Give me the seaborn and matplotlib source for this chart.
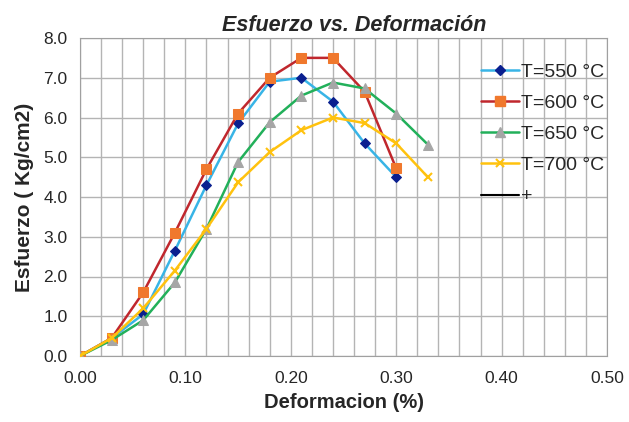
import numpy as np
import pandas as pd
import matplotlib
matplotlib.use("Agg")
import matplotlib.pyplot as plt
from matplotlib.lines import Line2D
from matplotlib.ticker import MultipleLocator, FormatStrFormatter
import seaborn as sns

# Datos
deformacion = [0.00, 0.03, 0.06, 0.09, 0.12, 0.15, 0.18, 0.21, 0.24, 0.27, 0.30, 0.33]
esf_550 = [0.0, 0.45, 1.05, 2.65, 4.3, 5.85, 6.9, 7.0, 6.4, 5.35, 4.5]
esf_600 = [0.0, 0.45, 1.6, 3.1, 4.7, 6.1, 7.0, 7.5, 7.5, 6.65, 4.72]
esf_650 = [0.0, 0.4, 0.9, 1.85, 3.2, 4.88, 5.88, 6.55, 6.88, 6.73, 6.1, 5.32]
esf_700 = [0.0, 0.45, 1.2, 2.15, 3.2, 4.37, 5.13, 5.68, 6.0, 5.86, 5.35, 4.5]
etiquetas = ["T=550 °C", "T=600 °C", "T=650 °C", "T=700 °C"]

series = [esf_550, esf_600, esf_650, esf_700]
estilos = [
    dict(color="#38b4e6", marker="D", markerfacecolor="#0a1f8f", markeredgecolor="#0a1f8f", markersize=5),
    dict(color="#c0272d", marker="s", markerfacecolor="#f0782d", markeredgecolor="#f0782d", markersize=7),
    dict(color="#22b05a", marker="^", markerfacecolor="#a6a6a6", markeredgecolor="#a6a6a6", markersize=7),
    dict(color="#ffc20e", marker="x", markerfacecolor="#ffc20e", markeredgecolor="#ffc20e", markersize=6, markeredgewidth=1.5),
]

rows = []
for lab, vals in zip(etiquetas, series):
    for x, y in zip(deformacion, vals):
        rows.append({"def": x, "esf": y, "serie": lab})
df = pd.DataFrame(rows)

sns.set_style("white")
plt.rcParams["font.family"] = ["Liberation Sans", "DejaVu Sans"]

W, H = 629, 422
fig = plt.figure(figsize=(W / 100, H / 100), dpi=100)
ax = fig.add_axes([80 / W, 1 - 356 / H, (607 - 80) / W, (356 - 38) / H])

handles = []
for lab, st in zip(etiquetas, estilos):
    sub = df[df["serie"] == lab]
    sns.lineplot(data=sub, x="def", y="esf", ax=ax, linewidth=1.8, zorder=3, **st)
    handles.append(Line2D([], [], linewidth=1.8, **st))
handles.append(Line2D([], [], color="black", linewidth=1.5))

ax.set_xlim(0, 0.5)
ax.set_ylim(0, 8)
ax.xaxis.set_major_locator(MultipleLocator(0.1))
ax.xaxis.set_minor_locator(MultipleLocator(0.02))
ax.yaxis.set_major_locator(MultipleLocator(1.0))
ax.xaxis.set_major_formatter(FormatStrFormatter("%.2f"))
ax.yaxis.set_major_formatter(FormatStrFormatter("%.1f"))
ax.grid(which="both", axis="x", color="#b4b4b4", linewidth=1)
ax.grid(which="major", axis="y", color="#b4b4b4", linewidth=1)
ax.set_axisbelow(True)
for s in ax.spines.values():
    s.set_color("#a0a0a0")
ax.tick_params(axis="x", which="major", labelsize=12.5, length=5, color="#a0a0a0", pad=6)
ax.tick_params(axis="y", which="major", labelsize=12.5, length=5, color="#a0a0a0", pad=4)
ax.tick_params(axis="x", which="minor", length=0)

ax.set_xlabel("Deformacion (%)", fontsize=14.5, fontweight="bold", labelpad=5)
ax.set_ylabel("Esfuerzo ( Kg/cm2)", fontsize=15, fontweight="bold", labelpad=7)
ax.set_title("Esfuerzo vs. Deformación", fontsize=15.5, fontweight="bold", style="italic", pad=5, x=0.52)

ax.legend(handles, etiquetas + ["+"], loc="upper left", bbox_to_anchor=(481 / W, 1 - 63 / H),
          bbox_transform=fig.transFigure, frameon=False, fontsize=14, handlelength=1.95,
          handletextpad=0.1, labelspacing=0.7, borderaxespad=0, borderpad=0)

fig.savefig("out.png", dpi=100)
